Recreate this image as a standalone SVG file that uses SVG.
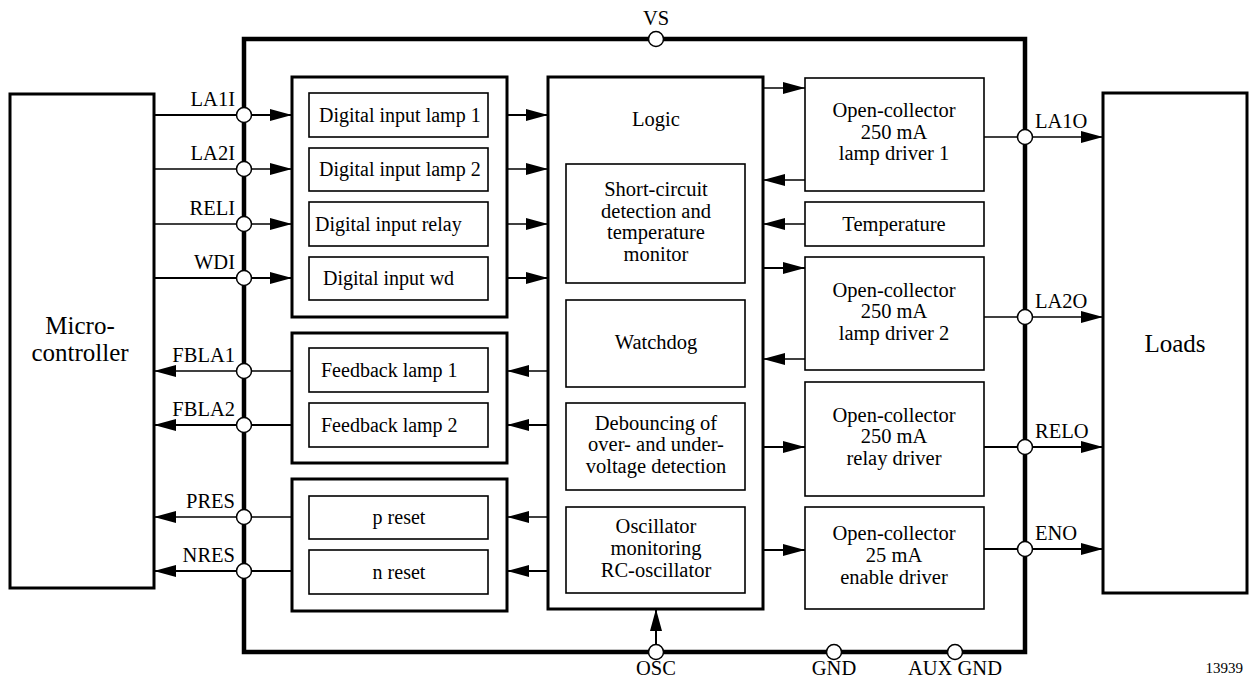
<svg xmlns="http://www.w3.org/2000/svg" width="1250" height="681" viewBox="0 0 1250 681" font-family="Liberation Serif, Times New Roman, serif">
<style>
text{font-family:"Liberation Serif","Times New Roman",serif;fill:#000}
.t20{font-size:20px}
.t21{font-size:20.5px}
.c{text-anchor:middle}
.r{text-anchor:end}
.big{font-size:25px;text-anchor:middle}
.box{fill:#fff;stroke:#000;stroke-width:1.6}
.grp{fill:#fff;stroke:#000;stroke-width:3}
.ext{fill:#fff;stroke:#000;stroke-width:3}
.chip{fill:none;stroke:#000;stroke-width:4.5}
.w{fill:none;stroke:#000;stroke-width:1.3}
.wb{fill:none;stroke:#000;stroke-width:2}
.pin{fill:#fff;stroke:#000;stroke-width:1.5}
</style>
<defs>
<marker id="ah" viewBox="0 0 22 12" markerWidth="22" markerHeight="12" refX="22" refY="6" orient="auto" markerUnits="userSpaceOnUse">
<path d="M0,0 L22,6 L0,12 z" fill="#000"/>
</marker>
</defs>
<rect width="1250" height="681" fill="#fff"/>

<g id="chip">
<rect class="chip" x="244" y="39" width="781" height="613"/>
</g>

<g id="microcontroller">
<rect class="ext" x="10" y="94" width="144" height="494"/>
<text class="big" x="80" y="334">Micro-</text>
<text class="big" x="80" y="361">controller</text>
</g>

<g id="loads">
<rect class="ext" x="1103" y="93" width="144" height="500"/>
<text class="big" x="1175" y="352">Loads</text>
</g>

<g id="inputs">
<rect class="grp" x="292" y="77" width="215" height="240"/>
<g id="dil1"><rect class="box" x="309" y="93" width="179" height="44"/><text class="t20" x="319" y="122">Digital input lamp 1</text></g>
<g id="dil2"><rect class="box" x="309" y="148" width="179" height="43"/><text class="t20" x="319" y="176">Digital input lamp 2</text></g>
<g id="dir"><rect class="box" x="309" y="202" width="179" height="44"/><text class="t20" x="315" y="231">Digital input relay</text></g>
<g id="diwd"><rect class="box" x="309" y="257" width="179" height="43"/><text class="t20" x="323" y="285">Digital input wd</text></g>
</g>

<g id="feedback">
<rect class="grp" x="292" y="333" width="215" height="130"/>
<g id="fb1"><rect class="box" x="309" y="348" width="179" height="44"/><text class="t20" x="321" y="377">Feedback lamp 1</text></g>
<g id="fb2"><rect class="box" x="309" y="403" width="179" height="44"/><text class="t20" x="321" y="432">Feedback lamp 2</text></g>
</g>

<g id="reset">
<rect class="grp" x="292" y="479" width="215" height="132"/>
<g id="preset"><rect class="box" x="309" y="496" width="179" height="43"/><text class="t20 c" x="399" y="524">p reset</text></g>
<g id="nreset"><rect class="box" x="309" y="550" width="179" height="44"/><text class="t20 c" x="399" y="579">n reset</text></g>
</g>

<g id="logic">
<rect class="grp" x="548" y="77" width="215" height="532"/>
<text class="t21 c" x="656" y="126">Logic</text>
<g id="shortcircuit"><rect class="box" x="566" y="164" width="179" height="119"/>
<text class="t21 c" x="656" y="196">Short-circuit</text>
<text class="t21 c" x="656" y="218">detection and</text>
<text class="t21 c" x="656" y="239">temperature</text>
<text class="t21 c" x="656" y="261">monitor</text></g>
<g id="watchdog"><rect class="box" x="566" y="300" width="179" height="87"/>
<text class="t21 c" x="656" y="349">Watchdog</text></g>
<g id="debounce"><rect class="box" x="566" y="403" width="179" height="87"/>
<text class="t21 c" x="656" y="430">Debouncing of</text>
<text class="t21 c" x="656" y="451">over- and under-</text>
<text class="t21 c" x="656" y="473">voltage detection</text></g>
<g id="oscmon"><rect class="box" x="566" y="507" width="179" height="86"/>
<text class="t21 c" x="656" y="533">Oscillator</text>
<text class="t21 c" x="656" y="555">monitoring</text>
<text class="t21 c" x="656" y="577">RC-oscillator</text></g>
</g>

<g id="drv1"><rect class="box" x="805" y="78" width="179" height="113"/>
<text class="t21 c" x="894" y="117">Open-collector</text>
<text class="t21 c" x="894" y="139">250 mA</text>
<text class="t21 c" x="894" y="160">lamp driver 1</text></g>
<g id="temperature"><rect class="box" x="805" y="202" width="179" height="44"/>
<text class="t21 c" x="894" y="231">Temperature</text></g>
<g id="drv2"><rect class="box" x="805" y="257" width="179" height="113"/>
<text class="t21 c" x="894" y="297">Open-collector</text>
<text class="t21 c" x="894" y="318">250 mA</text>
<text class="t21 c" x="894" y="340">lamp driver 2</text></g>
<g id="drvrel"><rect class="box" x="805" y="382" width="179" height="114"/>
<text class="t21 c" x="894" y="422">Open-collector</text>
<text class="t21 c" x="894" y="443">250 mA</text>
<text class="t21 c" x="894" y="465">relay driver</text></g>
<g id="drven"><rect class="box" x="805" y="507" width="179" height="102"/>
<text class="t21 c" x="894" y="540">Open-collector</text>
<text class="t21 c" x="894" y="562">25 mA</text>
<text class="t21 c" x="894" y="584">enable driver</text></g>

<g id="connectors">
<line class="wb" x1="154" y1="115" x2="244" y2="115"/>
<line class="w" x1="154" y1="169" x2="244" y2="169"/>
<line class="w" x1="154" y1="224" x2="244" y2="224"/>
<line class="wb" x1="154" y1="278" x2="244" y2="278"/>
<line class="wb" x1="244" y1="115" x2="292" y2="115" marker-end="url(#ah)"/>
<line class="w" x1="244" y1="169" x2="292" y2="169" marker-end="url(#ah)"/>
<line class="w" x1="244" y1="224" x2="292" y2="224" marker-end="url(#ah)"/>
<line class="wb" x1="244" y1="278" x2="292" y2="278" marker-end="url(#ah)"/>
<line class="w" x1="292" y1="371" x2="244" y2="371"/>
<line class="wb" x1="292" y1="425" x2="244" y2="425"/>
<line class="w" x1="292" y1="517" x2="244" y2="517"/>
<line class="wb" x1="292" y1="571" x2="244" y2="571"/>
<line class="w" x1="244" y1="371" x2="154" y2="371" marker-end="url(#ah)"/>
<line class="wb" x1="244" y1="425" x2="154" y2="425" marker-end="url(#ah)"/>
<line class="w" x1="244" y1="517" x2="154" y2="517" marker-end="url(#ah)"/>
<line class="wb" x1="244" y1="571" x2="154" y2="571" marker-end="url(#ah)"/>
<line class="wb" x1="507" y1="115" x2="548" y2="115" marker-end="url(#ah)"/>
<line class="w" x1="507" y1="169" x2="548" y2="169" marker-end="url(#ah)"/>
<line class="w" x1="507" y1="224" x2="548" y2="224" marker-end="url(#ah)"/>
<line class="wb" x1="507" y1="278" x2="548" y2="278" marker-end="url(#ah)"/>
<line class="w" x1="548" y1="371" x2="507" y2="371" marker-end="url(#ah)"/>
<line class="wb" x1="548" y1="425" x2="507" y2="425" marker-end="url(#ah)"/>
<line class="w" x1="548" y1="517" x2="507" y2="517" marker-end="url(#ah)"/>
<line class="wb" x1="548" y1="571" x2="507" y2="571" marker-end="url(#ah)"/>
<line class="w" x1="763" y1="88" x2="805" y2="88" marker-end="url(#ah)"/>
<line class="w" x1="805" y1="180" x2="763" y2="180" marker-end="url(#ah)"/>
<line class="w" x1="805" y1="224" x2="763" y2="224" marker-end="url(#ah)"/>
<line class="wb" x1="763" y1="268" x2="805" y2="268" marker-end="url(#ah)"/>
<line class="w" x1="805" y1="359" x2="763" y2="359" marker-end="url(#ah)"/>
<line class="wb" x1="763" y1="447" x2="805" y2="447" marker-end="url(#ah)"/>
<line class="wb" x1="763" y1="550" x2="805" y2="550" marker-end="url(#ah)"/>
<line class="w" x1="984" y1="137" x2="1025" y2="137"/>
<line class="w" x1="984" y1="317" x2="1025" y2="317"/>
<line class="wb" x1="984" y1="447" x2="1025" y2="447"/>
<line class="wb" x1="984" y1="549" x2="1025" y2="549"/>
<line class="w" x1="1025" y1="137" x2="1103" y2="137" marker-end="url(#ah)"/>
<line class="w" x1="1025" y1="317" x2="1103" y2="317" marker-end="url(#ah)"/>
<line class="wb" x1="1025" y1="447" x2="1103" y2="447" marker-end="url(#ah)"/>
<line class="wb" x1="1025" y1="549" x2="1103" y2="549" marker-end="url(#ah)"/>
<line class="wb" x1="656" y1="652" x2="656" y2="609" marker-end="url(#ah)"/>
</g>

<g id="pins">
<circle class="pin" cx="656" cy="39" r="7.5"/>
<circle class="pin" cx="244" cy="115" r="7.5"/>
<circle class="pin" cx="244" cy="169" r="7.5"/>
<circle class="pin" cx="244" cy="224" r="7.5"/>
<circle class="pin" cx="244" cy="278" r="7.5"/>
<circle class="pin" cx="244" cy="371" r="7.5"/>
<circle class="pin" cx="244" cy="425" r="7.5"/>
<circle class="pin" cx="244" cy="517" r="7.5"/>
<circle class="pin" cx="244" cy="571" r="7.5"/>
<circle class="pin" cx="1025" cy="137" r="7.5"/>
<circle class="pin" cx="1025" cy="317" r="7.5"/>
<circle class="pin" cx="1025" cy="447" r="7.5"/>
<circle class="pin" cx="1025" cy="549" r="7.5"/>
<circle class="pin" cx="656" cy="652" r="7.5"/>
<circle class="pin" cx="834" cy="652" r="7.5"/>
<circle class="pin" cx="955" cy="652" r="7.5"/>
</g>

<g id="labels">
<text class="t21 c" x="656" y="25">VS</text>
<text class="t21 r" x="235" y="106">LA1I</text>
<text class="t21 r" x="235" y="160">LA2I</text>
<text class="t21 r" x="235" y="215">RELI</text>
<text class="t21 r" x="235" y="269">WDI</text>
<text class="t21 r" x="235" y="362">FBLA1</text>
<text class="t21 r" x="235" y="416">FBLA2</text>
<text class="t21 r" x="235" y="508">PRES</text>
<text class="t21 r" x="235" y="562">NRES</text>
<text class="t21" x="1035" y="128">LA1O</text>
<text class="t21" x="1035" y="308">LA2O</text>
<text class="t21" x="1035" y="438">RELO</text>
<text class="t21" x="1035" y="540">ENO</text>
<text class="t21 c" x="656" y="675">OSC</text>
<text class="t21 c" x="834" y="675">GND</text>
<text class="t21 c" x="955" y="675">AUX GND</text>
<text x="1243" y="673" style="font-size:15px;text-anchor:end">13939</text>
</g>
</svg>
